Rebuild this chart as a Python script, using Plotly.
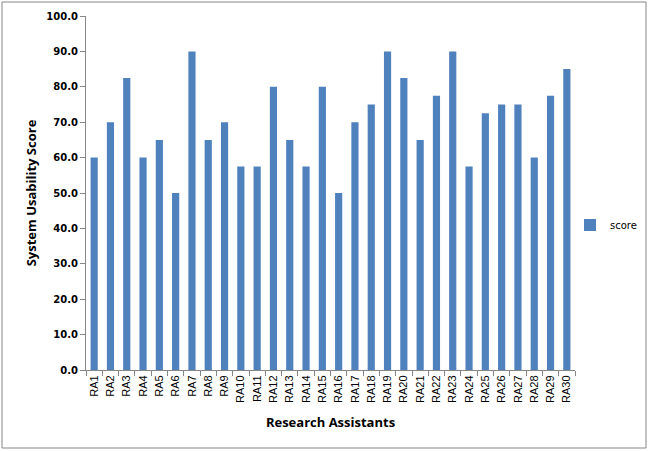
import plotly.graph_objects as go

assistants = ["RA" + str(i) for i in range(1, 31)]
scores = [60, 70, 82.5, 60, 65, 50, 90, 65, 70, 57.5,
          57.5, 80, 65, 57.5, 80, 50, 70, 75, 90, 82.5,
          65, 77.5, 90, 57.5, 72.5, 75, 75, 60, 77.5, 85]

W, H = 649, 451
ml, mr, mt, mb = 86, 74, 16, 81
pw, ph = W - ml - mr, H - mt - mb

fig = go.Figure()
fig.add_trace(go.Bar(x=assistants, y=scores, name="score",
                     marker_color="#4F81BD", marker_line_width=0))

xtick_font = dict(family="Liberation Sans", size=11, color="#000000")
ytick_font = dict(family="DejaVu Sans", size=10, color="#000000", weight="bold")
fig.update_layout(
    width=W, height=H,
    margin=dict(l=ml, r=mr, t=mt, b=mb, autoexpand=False),
    paper_bgcolor="white", plot_bgcolor="white",
    bargap=0.56,
    showlegend=True,
    legend=dict(x=(570 - ml) / pw, y=(mt + ph - 225) / ph, xanchor="left", yanchor="middle",
                font=dict(family="DejaVu Sans", size=10, color="#000000"),
                itemwidth=30, bgcolor="rgba(0,0,0,0)"),
    xaxis=dict(title=dict(text="<b>Research Assistants</b>",
                          font=dict(family="Open Sans", size=13, color="#000000"), standoff=15),
               tickangle=-90, tickfont=xtick_font, showline=True, linecolor="#868686",
               ticks="outside", ticklen=5, tickcolor="#868686", tickson="boundaries",
               showgrid=False, automargin=False),
    yaxis=dict(title=dict(text="<b>System Usability Score</b>",
                          font=dict(family="Open Sans", size=13, color="#000000"), standoff=6),
               range=[0, 100], dtick=10, tickformat=".1f", tickfont=ytick_font,
               showline=True, linecolor="#868686", ticks="outside", ticklen=5,
               tickcolor="#868686", showgrid=False, zeroline=False, automargin=False),
    shapes=[dict(type="rect", xref="paper", yref="paper",
                 x0=(2 - ml) / pw, x1=(W - 3 - ml) / pw,
                 y0=(mt + ph - (H - 3)) / ph, y1=(mt + ph - 2) / ph,
                 line=dict(color="#868686", width=1), layer="below")],
)

fig.write_html("out.html", config={"displayModeBar": False},
               post_script="document.body.style.margin='0';")
